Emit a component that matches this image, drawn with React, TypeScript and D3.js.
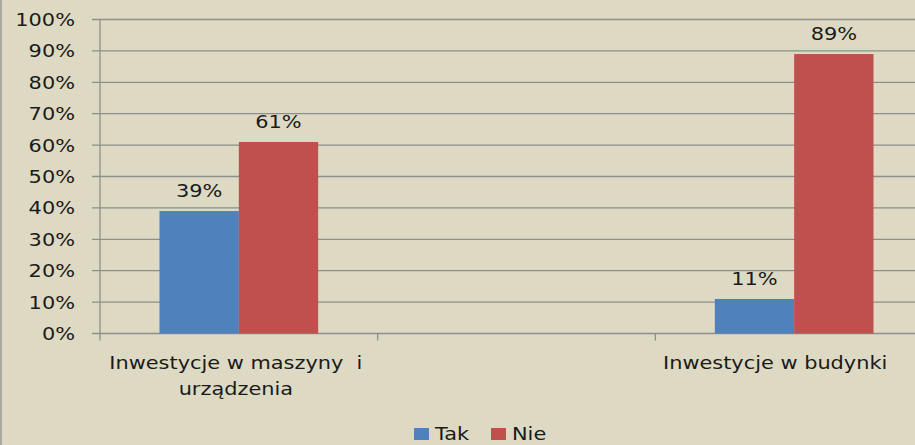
import React from "react";
import * as d3 from "d3";

const categories = ["Inwestycje w maszyny  i|urządzenia", "", "Inwestycje w budynki"];
const series = ["Tak", "Nie"];
const takValues = [39, null, 11];
const nieValues = [61, null, 89];
const yTicks = [0, 10, 20, 30, 40, 50, 60, 70, 80, 90, 100];
const colors = ["#4f81bd", "#c0504d"];

const W = 915;
const H = 445;
const font = "'DejaVu Sans', sans-serif";
const STRETCH = 1.16;

// the source picture is a bit stretched sideways, so the text is too
function Txt(props: { x: number; y: number; anchor?: string; children: React.ReactNode }) {
  return (
    <text
      transform={`translate(${props.x},${props.y}) scale(${STRETCH},1)`}
      textAnchor={props.anchor || "start"}
      fontFamily={font}
      fontSize={18}
      fill="#1a1a1a"
      style={{ whiteSpace: "pre" }}
    >
      {props.children}
    </text>
  );
}

export default function App() {
  const y = d3.scaleLinear().domain([0, 100]).range([333.5, 19.5]);
  const x = d3.scaleBand().domain(categories).range([100, 933]);
  const inner = d3.scaleBand().domain(series).range([0, x.bandwidth()]).paddingInner(0).paddingOuter(0.75);
  const vals = [takValues, nieValues];

  return (
    <div style={{ position: "absolute", left: 0, top: 0 }}>
      <svg width={W} height={H} style={{ display: "block", background: "#ddd9c3" }}>
        <line x1={1} x2={1} y1={0} y2={H} stroke="#9a9890" strokeWidth={1.5} />
        {yTicks.map((t) => (
          <g key={t}>
            <line x1={92} x2={W} y1={y(t)} y2={y(t)} stroke="#8e8e8a" strokeWidth={1.3} />
            <Txt x={75} y={y(t) + 6.5} anchor="end">
              {t}%
            </Txt>
          </g>
        ))}
        <line x1={100} x2={100} y1={y(100)} y2={y(0)} stroke="#8e8e8a" strokeWidth={1.3} />
        {categories.map((c) => (
          <line key={"t" + c} x1={x(c)!} x2={x(c)!} y1={y(0)} y2={y(0) + 7} stroke="#8e8e8a" strokeWidth={1.3} />
        ))}
        {categories.map((c, i) =>
          series.map((s, j) => {
            const v = vals[j][i];
            if (v == null) return null;
            const bx = x(c)! + inner(s)!;
            return (
              <g key={c + s}>
                <rect x={bx} y={y(v)} width={inner.bandwidth()} height={y(0) - y(v)} fill={colors[j]} />
                <Txt x={bx + inner.bandwidth() / 2} y={y(v) - 14} anchor="middle">
                  {v}%
                </Txt>
              </g>
            );
          })
        )}
        {categories.map((c, i) => {
          if (!c) return null;
          const cx = x(c)! + x.bandwidth() / 2 - (i === categories.length - 1 ? 19 : 3);
          return c.split("|").map((ln, k) => (
            <Txt key={"l" + c + k} x={cx} y={369 + k * 26} anchor="middle">
              {ln}
            </Txt>
          ));
        })}
        {series.map((s, j) => {
          const lx = 414 + j * 77;
          return (
            <g key={"lg" + s}>
              <rect x={lx} y={428} width={15} height={12} fill={colors[j]} />
              <Txt x={lx + 21} y={440}>
                {s}
              </Txt>
            </g>
          );
        })}
      </svg>
    </div>
  );
}
